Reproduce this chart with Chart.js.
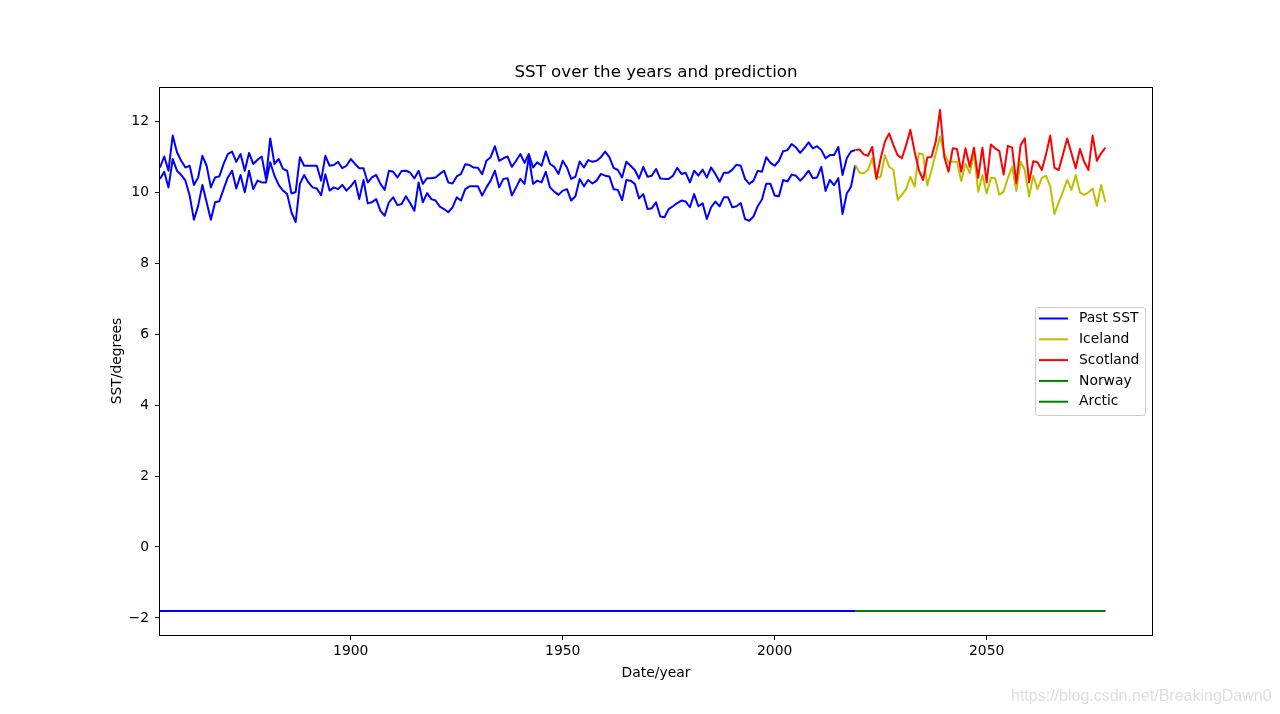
<!DOCTYPE html>
<html>
<head>
<meta charset="utf-8">
<title>SST over the years and prediction</title>
<script src="https://cdn.jsdelivr.net/npm/chart.js@4.4.1/dist/chart.umd.min.js"></script>
<style>
  html, body { margin: 0; padding: 0; background: #fff; }
  #wrap { position: relative; width: 1280px; height: 714px; }
  #mark {
    position: absolute; left: 1011px; top: 687px;
    font: 16px "Liberation Sans", Arial, sans-serif; line-height: 18px;
    color: #dedede; white-space: nowrap;
  }
</style>
</head>
<body>
<div id="wrap">
  <canvas id="sstChart" width="1280" height="714"></canvas>
  <div id="mark">https://blog.csdn.net/BreakingDawn0</div>
</div>
<script>
// yearly series, past 1855-2019 and prediction 2019-2078
const pastStart = 1855;
const predStart = 2019;

const pastHigh = [
  10.69, 11.0, 10.6, 11.59, 11.12, 10.88, 10.69, 10.74, 10.2, 10.41,
  11.02, 10.74, 10.13, 10.41, 10.44, 10.79, 11.07, 11.14, 10.85, 11.07,
  10.6, 11.1, 10.79, 10.91, 11.0, 10.37, 11.51, 10.79, 10.93, 10.65,
  10.6, 9.96, 10.0, 10.98, 10.74, 10.74, 10.74, 10.74, 10.32, 11.02,
  10.74, 10.76, 10.85, 10.67, 10.74, 10.93, 10.79, 10.67, 10.67, 10.27,
  10.41, 10.48, 10.23, 10.06, 10.6, 10.57, 10.41, 10.59, 10.6, 10.55,
  10.38, 10.6, 10.23, 10.39, 10.39, 10.41, 10.51, 10.6, 10.27, 10.24,
  10.44, 10.51, 10.78, 10.76, 10.69, 10.68, 10.5, 10.88, 10.98, 11.29,
  10.88, 10.95, 11.0, 10.71, 10.88, 11.07, 10.82, 11.07, 10.69, 10.84,
  10.74, 11.14, 10.79, 10.71, 10.51, 10.88, 10.69, 10.37, 10.43, 10.86,
  10.69, 10.9, 10.85, 10.88, 10.98, 11.14, 10.98, 10.68, 10.62, 10.41,
  10.85, 10.74, 10.62, 10.38, 10.71, 10.43, 10.46, 10.65, 10.38, 10.37,
  10.37, 10.46, 10.68, 10.51, 10.54, 10.27, 10.6, 10.46, 10.63, 10.41,
  10.69, 10.51, 10.29, 10.54, 10.54, 10.63, 10.77, 10.74, 10.37, 10.23,
  10.32, 10.6, 10.57, 10.98, 10.82, 10.74, 10.88, 11.15, 11.18, 11.35,
  11.26, 11.1, 11.24, 11.4, 11.23, 11.29, 11.18, 10.95, 11.04, 11.04,
  11.27, 10.48, 10.95, 11.14, 11.18
];

const pastLow = [
  10.37, 10.57, 10.13, 10.93, 10.6, 10.48, 10.32, 9.9, 9.22, 9.61,
  10.2, 9.71, 9.22, 9.71, 9.74, 10.08, 10.41, 10.6, 10.1, 10.48,
  9.99, 10.6, 10.08, 10.32, 10.27, 10.27, 10.84, 10.46, 10.2, 10.04,
  9.94, 9.43, 9.15, 10.23, 10.48, 10.27, 10.13, 10.1, 9.91, 10.5,
  10.04, 10.13, 10.08, 10.2, 10.04, 10.16, 10.32, 9.8, 10.34, 9.68,
  9.71, 9.8, 9.47, 9.33, 9.71, 9.85, 9.63, 9.66, 9.88, 9.69,
  9.47, 10.27, 9.71, 9.97, 9.8, 9.76, 9.59, 9.52, 9.43, 9.57,
  9.85, 9.76, 10.08, 10.16, 10.16, 10.16, 9.9, 10.13, 10.32, 10.6,
  10.13, 10.37, 10.39, 9.9, 10.13, 10.37, 10.23, 10.98, 10.23, 10.32,
  10.27, 10.57, 10.13, 10.01, 9.92, 10.04, 10.08, 9.76, 9.88, 10.37,
  10.16, 10.34, 10.24, 10.32, 10.51, 10.46, 10.44, 10.08, 10.06, 9.77,
  10.34, 10.32, 10.23, 9.82, 9.94, 9.52, 9.54, 9.71, 9.31, 9.29,
  9.52, 9.6, 9.69, 9.76, 9.73, 9.57, 9.94, 9.6, 9.68, 9.24,
  9.57, 9.73, 9.6, 9.85, 9.85, 9.57, 9.6, 9.69, 9.24, 9.19,
  9.31, 9.6, 9.79, 10.23, 10.23, 9.9, 9.88, 10.34, 10.3, 10.49,
  10.46, 10.32, 10.44, 10.6, 10.39, 10.41, 10.71, 10.03, 10.34, 10.19,
  10.39, 9.38, 9.96, 10.15, 10.76
];

const polarSST = -1.8;  // flat arctic column, past and prediction

const iceland = [
  10.76, 10.55, 10.53, 10.62, 10.95, 10.4, 10.43, 11.04, 10.71, 10.62,
  9.78, 9.92, 10.08, 10.43, 10.15, 11.09, 11.06, 10.19, 10.62, 11.09,
  11.56, 11.09, 10.85, 10.85, 10.85, 10.31, 10.8, 10.53, 11.09, 10.01,
  10.48, 9.96, 10.4, 10.39, 9.92, 10.01, 10.39, 10.71, 10.03, 10.85,
  10.62, 9.87, 10.46, 10.08, 10.39, 10.46, 10.15, 9.38, 9.71, 10.01,
  10.34, 10.06, 10.48, 9.99, 9.92, 9.99, 10.1, 9.61, 10.2, 9.72
];

const scotland = [
  11.18, 11.2, 11.06, 11.02, 11.27, 10.37, 10.95, 11.42, 11.65, 11.32,
  11.04, 10.95, 11.32, 11.75, 11.14, 10.62, 10.34, 10.97, 10.99, 11.42,
  12.31, 10.99, 10.57, 11.23, 11.21, 10.57, 11.23, 10.71, 11.25, 10.4,
  11.25, 10.27, 11.34, 11.23, 11.15, 10.49, 11.3, 11.25, 10.24, 11.32,
  11.51, 10.27, 10.87, 10.84, 10.62, 11.06, 11.59, 10.68, 10.62, 11.06,
  11.51, 11.09, 10.67, 11.21, 10.85, 10.62, 11.59, 10.88, 11.09, 11.25
];

const xTicks = [1900, 1950, 2000, 2050];
const yTicks = [-2, 0, 2, 4, 6, 8, 10, 12];

const pastYears = pastHigh.map((_, i) => pastStart + i);
const predYears = iceland.map((_, i) => predStart + i);
const pastPolar = pastYears.map(() => polarSST);
const predPolar = predYears.map(() => polarSST);

function pts(xs, ys) {
  return xs.map((x, i) => ({ x: x, y: ys[i] }));
}

const FONT = 'DejaVu Sans';
Chart.defaults.font.family = FONT;
Chart.defaults.color = '#000';

function line(label, data, color, order) {
  return {
    label: label, data: data, borderColor: color, backgroundColor: color,
    borderWidth: 2, borderJoinStyle: 'round', pointRadius: 0, tension: 0,
    fill: false, order: order
  };
}

const datasets = [
  line('Past SST', pts(pastYears, pastHigh), '#0000ff', 7),
  line('', pts(pastYears, pastLow), '#0000ff', 6),
  line('', pts(pastYears, pastPolar), '#0000ff', 5),
  line('Iceland', pts(predYears, iceland), '#bfbf00', 4),
  line('Scotland', pts(predYears, scotland), '#ff0000', 3),
  line('Norway', pts(predYears, predPolar), '#008000', 2),
  line('Arctic', pts(predYears, predPolar), '#008000', 1)
];

// axes frame + legend box like matplotlib
const framePlugin = {
  id: 'frame',
  afterDraw(chart) {
    const c = chart.ctx, a = chart.chartArea;
    c.save();
    c.strokeStyle = '#000';
    c.lineWidth = 1;
    c.strokeRect(Math.round(a.left) - 0.5, Math.round(a.top) + 0.5,
                 Math.round(a.right - a.left) + 1, Math.round(a.bottom - a.top));

    const items = chart.data.datasets.filter(d => d.label);
    const w = 110, rowH = 20.8, h = 108;
    const x0 = a.right - 7 - w;
    const y0 = (a.top + a.bottom) / 2 - h / 2;
    c.beginPath();
    c.roundRect(x0 + 0.5, y0 + 0.5, w, h, 3);
    c.fillStyle = 'rgba(255,255,255,0.8)';
    c.fill();
    c.strokeStyle = '#cccccc';
    c.stroke();
    c.font = '13.9px "' + FONT + '"';
    c.textBaseline = 'middle';
    c.fillStyle = '#000';
    items.forEach((d, i) => {
      const y = y0 + 11.5 + i * rowH;
      c.beginPath();
      c.moveTo(x0 + 4, y);
      c.lineTo(x0 + 33, y);
      c.strokeStyle = d.borderColor;
      c.lineWidth = 2;
      c.stroke();
      c.fillText(d.label, x0 + 44, y);
    });
    c.restore();
  }
};

const ctx = document.getElementById('sstChart').getContext('2d');
new Chart(ctx, {
  type: 'line',
  data: { datasets: datasets },
  plugins: [framePlugin],
  options: {
    responsive: false,
    animation: false,
    devicePixelRatio: 1,
    layout: { padding: { left: 104.7, right: 128, top: 62.7, bottom: 28.7 } },
    plugins: {
      legend: { display: false },
      tooltip: { enabled: false },
      title: {
        display: true,
        text: 'SST over the years and prediction',
        fullSize: false,
        color: '#000',
        font: { family: FONT, size: 16.67, weight: 'normal' },
        padding: { top: 0, bottom: 4.3 }
      }
    },
    scales: {
      x: {
        type: 'linear',
        min: 1855,
        max: 2089,
        afterBuildTicks: axis => { axis.ticks = xTicks.map(v => ({ value: v })); },
        afterFit: scale => { scale.height = 50.3; },
        grid: { drawOnChartArea: false, drawTicks: true, tickLength: 5, color: '#000' },
        border: { display: false },
        ticks: { padding: 3.5, font: { size: 13.9 }, color: '#000', maxRotation: 0,
                 callback: v => String(v) },
        title: { display: true, text: 'Date/year', font: { size: 13.9 }, color: '#000' }
      },
      y: {
        min: -2.479,
        max: 12.958,
        afterBuildTicks: axis => { axis.ticks = yTicks.map(v => ({ value: v })); },
        afterFit: scale => { scale.width = 55.3; },
        grid: { drawOnChartArea: false, drawTicks: true, tickLength: 5, color: '#000' },
        border: { display: false },
        ticks: { padding: 6, font: { size: 13.9 }, color: '#000',
                 callback: v => (v < 0 ? '\u2212' + Math.abs(v) : String(v)) },
        title: { display: true, text: 'SST/degrees', font: { size: 13.9 }, color: '#000' }
      }
    }
  }
});
</script>
</body>
</html>
